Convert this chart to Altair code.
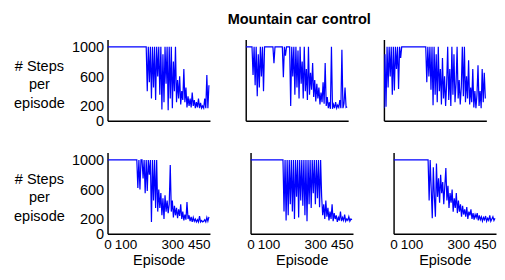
import altair as alt
import pandas as pd

# Episode index (every 5th episode sampled)
episodes = list(range(0, 490, 5))

# Panel values (# steps per episode)
steps_a = [1000] * 38 + [
    400, 1000, 520, 1000, 300, 1000, 450, 1000, 280, 1000,
    600, 1000, 350, 1000, 150, 900, 250, 1000, 500, 1000,
    140, 1000, 300, 1000, 170, 800, 400, 1000, 250, 550,
    300, 600, 220, 400, 280, 700, 250, 450, 180, 330,
    200, 300, 180, 380, 200, 280, 170, 250, 180, 300,
    170, 240, 170, 200, 170, 300, 170, 620, 170, 480]

steps_b = [
    1000, 1000, 1000, 1000, 1000, 1000, 1000, 620, 1000, 480,
    1000, 330, 900, 450, 1000, 600, 1000, 400, 1000, 1000,
    1000, 1000, 1000, 1000, 1000, 1000, 1000, 780, 1000, 1000,
    1000, 1000, 1000, 1000, 1000, 1000, 590, 1000, 880, 1000,
    1000, 1000, 1000, 200, 1000, 600, 1000, 350, 1000, 450,
    950, 300, 1000, 500, 800, 300, 1000, 400, 700, 280,
    1000, 350, 650, 420, 780, 320, 550, 260, 500, 300,
    450, 220, 380, 250, 520, 230, 780, 200, 320, 170,
    250, 160, 1000, 160, 220, 170, 250, 170, 210, 180,
    280, 170, 960, 170, 230, 450, 180, 190]

steps_c = [
    170, 900, 190, 1000, 450, 1000, 600, 1000, 350, 1000,
    410, 1000, 700, 1000, 430, 1000, 850, 1000] + [1000] * 23 + [
    520, 1000, 600, 1000, 420, 1000, 210, 1000, 350,
    900, 250, 1000, 400, 700, 220, 850, 300, 600, 200,
    500, 1000, 280, 700, 200, 1000, 350, 900, 250, 500,
    1000, 300, 550, 220, 450, 1000, 330, 1000, 250, 600,
    300, 820, 220, 450, 250, 700, 180, 400, 170, 350,
    750, 200, 400, 170, 700, 250, 650, 300]

steps_d = [1000] * 29 + [
    620, 1000, 600, 1000, 1000, 750, 1000, 550, 1000, 580,
    1000, 800, 1000, 160, 1000, 450, 1000, 350, 1000, 300,
    600, 350, 550, 250, 480, 200, 520, 300, 450, 280,
    400, 930, 300, 450, 220, 380, 250, 350, 210, 330,
    240, 400, 200, 300, 180, 260, 190, 430, 200, 250,
    170, 230, 160, 220, 170, 200, 160, 190, 160, 240,
    160, 180, 160, 170, 190, 160, 220, 170, 230]

steps_e = [1000] * 32 + [
    300, 1000, 180, 1000, 250, 1000, 400, 1000, 300, 1000,
    200, 1000, 500, 1000, 220, 1000, 450, 1000, 380, 1000,
    250, 1000, 170, 1000, 400, 1000, 350, 1000, 550, 1000,
    400, 1000, 480, 1000, 360, 1000, 500, 250, 400, 200,
    450, 230, 350, 180, 300, 200, 400, 170, 280, 200,
    250, 160, 220, 180, 300, 170, 220, 180, 260, 170,
    200, 180, 230, 170, 200, 190]

steps_f = [1000] * 34 + [
    450, 1000, 600, 210, 900, 500, 230, 950, 500, 750,
    420, 800, 550, 700, 400, 650, 890, 450, 650, 350,
    550, 420, 600, 300, 480, 350, 550, 280, 450, 300,
    400, 230, 380, 260, 330, 230, 360, 200, 300, 250,
    330, 200, 280, 190, 260, 220, 280, 180, 250, 190,
    230, 170, 220, 190, 240, 170, 210, 180, 250, 170,
    200, 230, 180, 210]

y_ticks = [0, 200, 600, 1000]
x_ticks = [0, 100, 300, 450]

FONT = "Liberation Sans"
BLUE = "#0000ff"

x_label_offset = {
    "condition": [
        {"test": "datum.value == 100", "value": -3},
        {"test": "datum.value == 300", "value": 2},
        {"test": "datum.value == 450", "value": -3},
    ],
    "value": 0,
}


def panel(values, show_y, show_x):
    df = pd.DataFrame({"episode": episodes[:len(values)], "steps": values})
    if show_y:
        y_axis = alt.Axis(values=y_ticks, format="d", ticks=False, grid=False,
                          labelFont=FONT, labelFontSize=15, labelColor="black",
                          labelPadding=4, domainColor="black", domainWidth=1.5,
                          title=["# Steps", "per", "episode"], titleFont=FONT,
                          titleFontSize=15, titleFontWeight="normal", titleAngle=0,
                          titleAlign="center", titleBaseline="middle",
                          titleX=-71, titleY=27, titleLineHeight=19, titleColor="black")
    else:
        y_axis = alt.Axis(values=y_ticks, ticks=False, grid=False, labels=False,
                          title=None, domainColor="black", domainWidth=1.5)
    if show_x:
        x_axis = alt.Axis(values=x_ticks, format="d", ticks=False, grid=False,
                          labelFont=FONT, labelFontSize=14, labelColor="black",
                          labelPadding=4, labelFlush=False, labelOverlap=False,
                          labelOffset=x_label_offset,
                          domainColor="black", domainWidth=1.5,
                          title="Episode", titleFont=FONT, titleFontSize=15,
                          titleFontWeight="normal", titleColor="black", titlePadding=2)
    else:
        x_axis = alt.Axis(values=x_ticks, ticks=False, grid=False, labels=False,
                          title=None, domainColor="black", domainWidth=1.5)
    return alt.Chart(df).mark_line(color=BLUE, strokeWidth=1.25, clip=True).encode(
        x=alt.X("episode:Q", scale=alt.Scale(domain=[0, 490], nice=False), axis=x_axis),
        y=alt.Y("steps:Q", scale=alt.Scale(domain=[0, 1100], nice=False), axis=y_axis),
    ).properties(width=106, height=84)


top = alt.hconcat(panel(steps_a, True, False), panel(steps_b, False, False),
                  panel(steps_c, False, False), spacing=37)
bottom = alt.hconcat(panel(steps_d, True, True), panel(steps_e, False, True),
                     panel(steps_f, False, True), spacing=37)

chart = alt.vconcat(top, bottom, spacing=25).properties(
    title=alt.TitleParams("Mountain car control", font=FONT, fontSize=15,
                          fontWeight="bold", color="black", anchor="middle",
                          dx=46, offset=13),
    padding={"left": 5, "top": 0, "right": 0, "bottom": 0},
).configure_view(strokeWidth=0)

chart.save("out.html", embed_options={"renderer": "svg", "actions": False})
